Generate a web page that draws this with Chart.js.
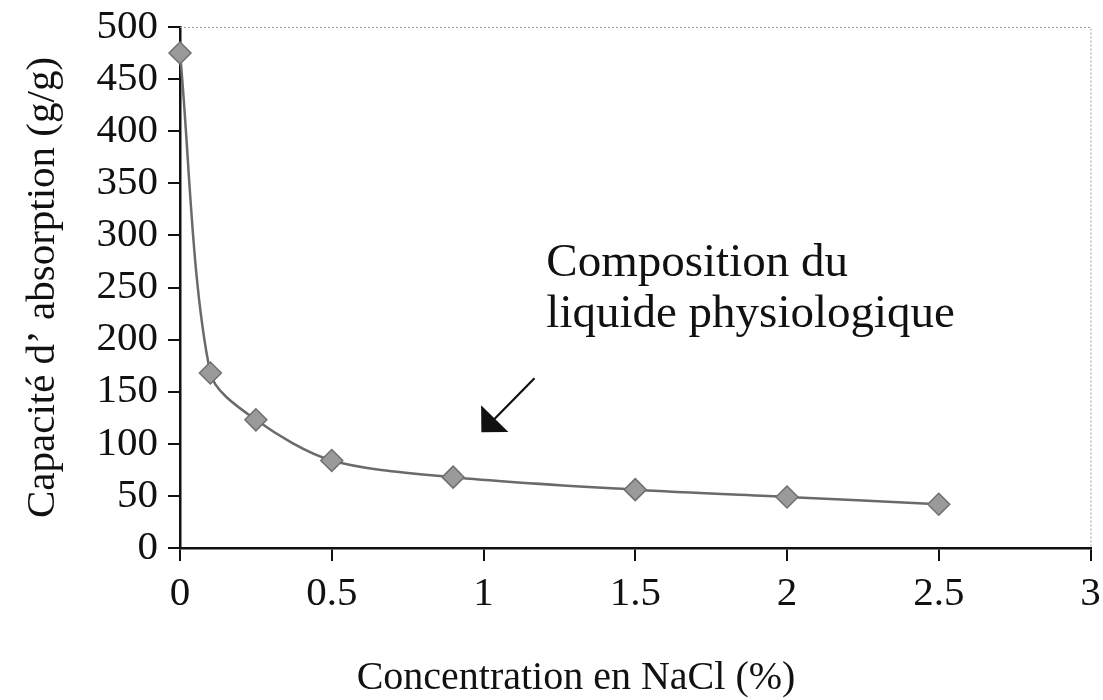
<!DOCTYPE html>
<html>
<head>
<meta charset="utf-8">
<script src="https://cdn.jsdelivr.net/npm/chart.js@4/dist/chart.umd.min.js"></script>
<style>
  html, body { margin: 0; padding: 0; background: #fff; }
  #wrap { width: 1103px; height: 700px; }
</style>
</head>
<body>
<div id="wrap"><canvas id="c" width="1103" height="700"></canvas></div>
<script>
// ---- data ----
const concentrations = [0, 0.1, 0.25, 0.5, 0.9, 1.5, 2, 2.5];
const absorption = [475, 168, 123, 84, 68, 56, 49, 42];
const xTickValues = [0, 0.5, 1, 1.5, 2, 2.5, 3];
const yTickValues = [0, 50, 100, 150, 200, 250, 300, 350, 400, 450, 500];
const xTitle = 'Concentration en NaCl (%)';
const yTitle = 'Capacité d\u2019 absorption (g/g)';
const noteLines = ['Composition du', 'liquide physiologique'];
// annotation anchors in data units: [x, y]
const noteAnchor = [1.207, 261];
const noteLineStep = 49;       // in value units between baselines
const arrowFrom = [1.168, 163];
const arrowTo = [0.993, 111];

const SERIF = '"Liberation Serif", "DejaVu Serif", "Times New Roman", serif';

const annotationPlugin = {
  id: 'annot',
  afterDraw(chart) {
    const {ctx, chartArea, scales} = chart;
    const xs = scales.x, ys = scales.y;
    ctx.save();
    // dotted top and right frame
    ctx.strokeStyle = '#9a9a9a';
    ctx.lineWidth = 1;
    ctx.setLineDash([2, 2]);
    ctx.beginPath();
    ctx.moveTo(chartArea.left, chartArea.top + 0.5);
    ctx.lineTo(chartArea.right + 0.5, chartArea.top + 0.5);
    ctx.lineTo(chartArea.right + 0.5, chartArea.bottom);
    ctx.stroke();
    ctx.setLineDash([]);

    // x-axis title (offset to the left as in the original figure)
    ctx.fillStyle = '#111';
    ctx.font = '40px ' + SERIF;
    ctx.textAlign = 'center';
    ctx.textBaseline = 'middle';
    ctx.fillText(xTitle, 576, 678);

    // note text
    ctx.font = '47px ' + SERIF;
    ctx.textAlign = 'left';
    ctx.textBaseline = 'alphabetic';
    noteLines.forEach((t, i) => {
      ctx.fillText(t, xs.getPixelForValue(noteAnchor[0]), ys.getPixelForValue(noteAnchor[1] - i * noteLineStep));
    });

    // arrow
    const x1 = xs.getPixelForValue(arrowFrom[0]), y1 = ys.getPixelForValue(arrowFrom[1]);
    const x2 = xs.getPixelForValue(arrowTo[0]), y2 = ys.getPixelForValue(arrowTo[1]);
    const ang = Math.atan2(y2 - y1, x2 - x1);
    const head = 27, spread = Math.PI / 4;
    ctx.strokeStyle = '#111';
    ctx.lineWidth = 2.2;
    ctx.beginPath();
    ctx.moveTo(x1, y1);
    ctx.lineTo(x2 - Math.cos(ang) * head * 0.6, y2 - Math.sin(ang) * head * 0.6);
    ctx.stroke();
    ctx.beginPath();
    ctx.moveTo(x2, y2);
    ctx.lineTo(x2 - head * Math.cos(ang - spread), y2 - head * Math.sin(ang - spread));
    ctx.lineTo(x2 - head * Math.cos(ang + spread), y2 - head * Math.sin(ang + spread));
    ctx.closePath();
    ctx.fillStyle = '#111';
    ctx.fill();
    ctx.restore();
  }
};

new Chart(document.getElementById('c'), {
  type: 'scatter',
  data: {
    datasets: [{
      data: concentrations.map((x, i) => ({x: x, y: absorption[i]})),
      showLine: true,
      borderColor: '#6a6a6a',
      borderWidth: 2.5,
      tension: 0.3,
      pointStyle: 'rectRot',
      pointRadius: 11,
      pointBackgroundColor: '#9a9a9a',
      pointBorderColor: '#707070',
      pointBorderWidth: 1.5,
      clip: false
    }]
  },
  options: {
    responsive: false,
    devicePixelRatio: 1,
    animation: false,
    layout: { padding: { top: 27, right: 11, left: 0, bottom: 0 } },
    plugins: { legend: { display: false }, tooltip: { enabled: false } },
    scales: {
      x: {
        type: 'linear',
        min: 0, max: 3,
        afterBuildTicks(scale) { scale.ticks = xTickValues.map(v => ({value: v})); },
        afterFit(scale) { scale.height = 152; scale.paddingLeft = 0; scale.paddingRight = 0; },
        grid: { drawOnChartArea: false, drawTicks: true, tickLength: 13, color: '#111', lineWidth: 2 },
        border: { display: true, color: '#111', width: 2.5 },
        ticks: { color: '#111', font: { family: SERIF, size: 41 }, padding: 9, maxRotation: 0, autoSkip: false,
                 callback: v => String(v) },
        title: { display: false, text: xTitle }
      },
      y: {
        type: 'linear',
        min: 0, max: 500,
        afterBuildTicks(scale) { scale.ticks = yTickValues.map(v => ({value: v})); },
        afterFit(scale) { scale.width = 180; scale.paddingTop = 0; scale.paddingBottom = 0; },
        grid: { drawOnChartArea: false, drawTicks: true, tickLength: 12, color: '#111', lineWidth: 2 },
        border: { display: true, color: '#111', width: 2.5 },
        ticks: { color: '#111', font: { family: SERIF, size: 41 }, padding: 10, autoSkip: false,
                 callback: v => String(v) },
        title: { display: true, text: yTitle, color: '#111', font: { family: SERIF, size: 41 }, padding: { top: 19, bottom: 0 } }
      }
    }
  },
  plugins: [annotationPlugin]
});
</script>
</body>
</html>
